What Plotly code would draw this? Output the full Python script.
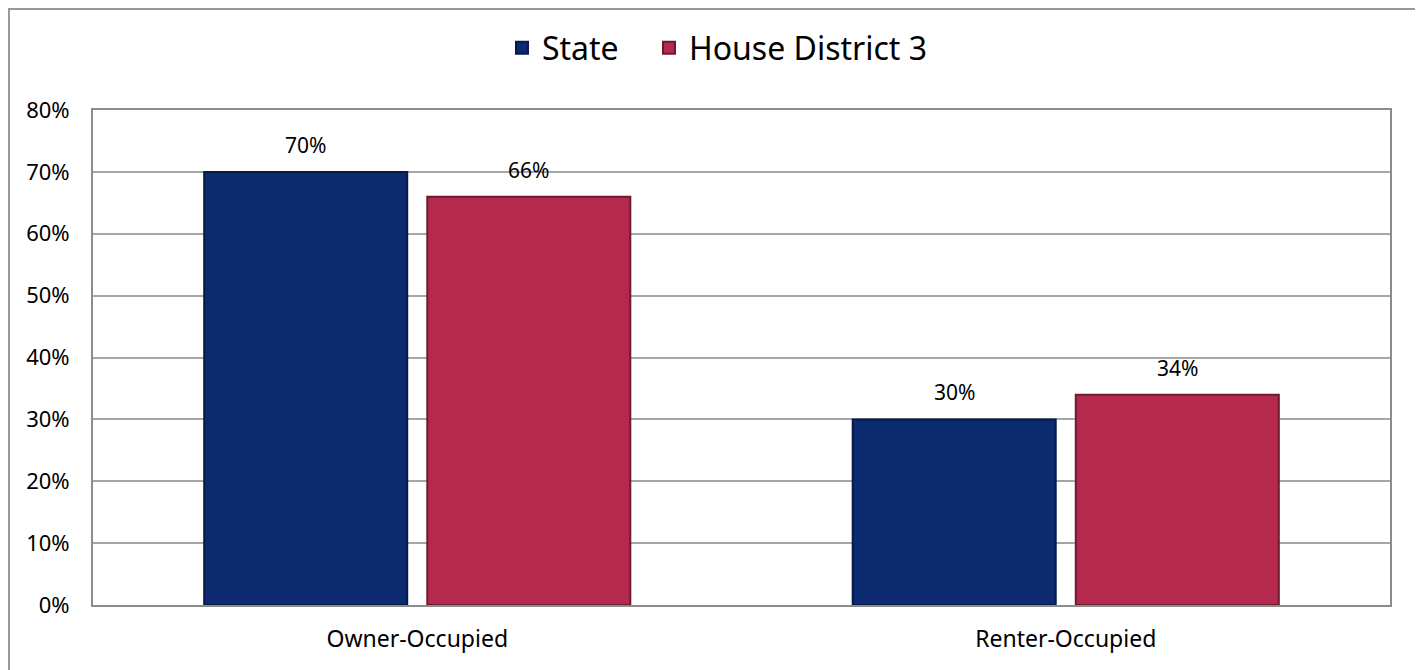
import plotly.graph_objects as go

categories = ["Owner-Occupied", "Renter-Occupied"]
state_values = [70, 30]
district_values = [66, 34]
series_names = ["State", "House District 3"]
tick_values = [0, 10, 20, 30, 40, 50, 60, 70, 80]
tick_labels = ["0%", "10%", "20%", "30%", "40%", "50%", "60%", "70%", "80%"]

FONT = "Noto Sans"
navy = "#0b2a70"
crimson = "#b5294f"

fig = go.Figure()
fig.add_trace(go.Bar(
    name=series_names[0], x=categories, y=state_values,
    marker=dict(color=navy, line=dict(color="#061a48", width=2)),
    offsetgroup="a", legend="legend",
))
fig.add_trace(go.Bar(
    name=series_names[1], x=categories, y=district_values,
    marker=dict(color=crimson, line=dict(color="#6e1a2e", width=2)),
    offsetgroup="b", legend="legend2",
))

# data labels above bars
for i, cat in enumerate(categories):
    for vals, shift in ((state_values, -111.5), (district_values, 111.5)):
        fig.add_annotation(
            x=cat, y=vals[i], text=f"{vals[i]}%", showarrow=False,
            xshift=shift, yshift=27, font=dict(family=FONT, size=21, color="#000"),
        )

# outer chart border
fig.add_shape(type="rect", xref="paper", yref="paper",
              x0=-0.0648, x1=1.0224, y0=-0.2, y1=1.204,
              line=dict(color="#999999", width=2), fillcolor="rgba(0,0,0,0)")

legend_common = dict(
    orientation="h", xref="container", yref="container",
    xanchor="left", y=0.9396, yanchor="middle",
    font=dict(family=FONT, size=32, color="#000"),
    itemwidth=30, bgcolor="rgba(0,0,0,0)",
)

fig.update_layout(
    width=1415, height=662,
    margin=dict(l=85, r=33, t=102, b=65),
    paper_bgcolor="white", plot_bgcolor="white",
    barmode="group", bargap=0.312, bargroupgap=0.09,
    font=dict(family=FONT, color="#000"),
    showlegend=True,
    legend=dict(x=0.3491, **legend_common),
    legend2=dict(x=0.4530, **legend_common),
    xaxis=dict(
        showline=True, mirror=True, linecolor="#8c8c8c", linewidth=2,
        tickfont=dict(family=FONT, size=23), ticks="", showgrid=False,
        ticklabelstandoff=12,
    ),
    yaxis=dict(
        range=[0, 80], tickvals=tick_values, ticktext=tick_labels,
        showline=True, mirror=True, linecolor="#8c8c8c", linewidth=2,
        showgrid=True, gridcolor="#a6a6a6", gridwidth=1.5,
        tickfont=dict(family=FONT, size=22), ticks="", ticklen=0,
        zeroline=False, ticklabelstandoff=17,
    ),
)

fig.write_html("out.html")
